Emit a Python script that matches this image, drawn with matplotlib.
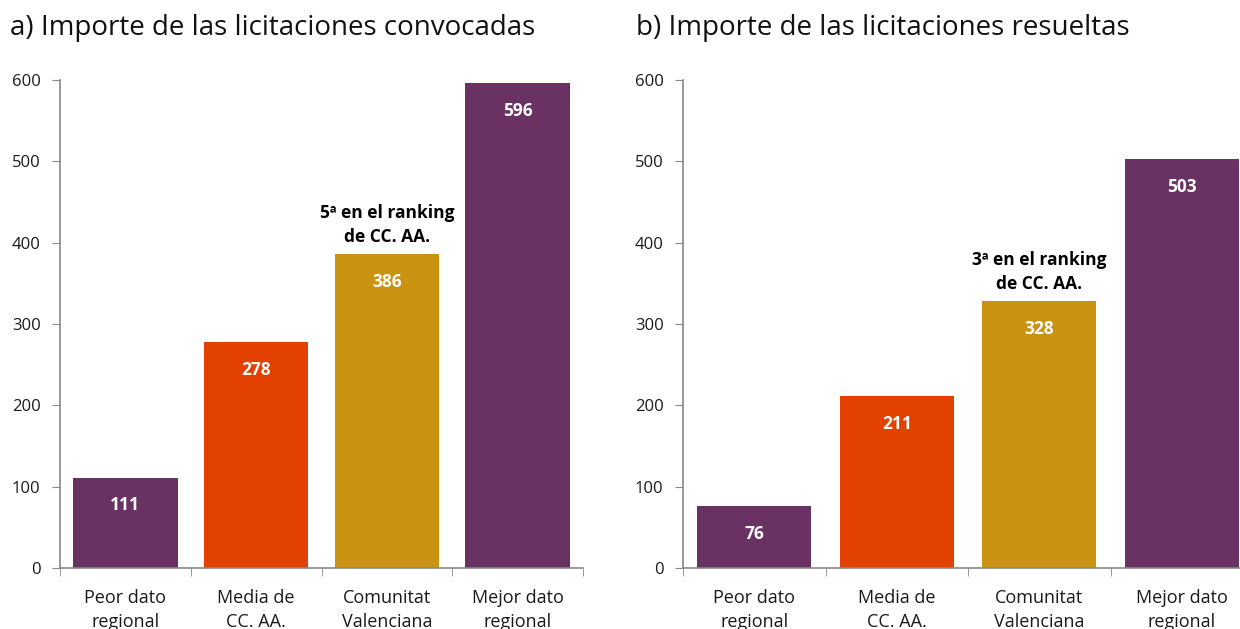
import numpy as np
import matplotlib.pyplot as plt

categories = ["Peor dato\nregional", "Media de\nCC. AA.", "Comunitat\nValenciana", "Mejor dato\nregional"]
convocadas = [111, 278, 386, 596]
resueltas = [76, 211, 328, 503]
titles = ["a) Importe de las licitaciones convocadas", "b) Importe de las licitaciones resueltas"]
rank_notes = ["5ª en el ranking\nde CC. AA.", "3ª en el ranking\nde CC. AA."]

colors = ["#6A3163", "#E34100", "#C99210", "#6A3163"]
plt.rcParams['font.family'] = ['Open Sans', 'DejaVu Sans']

fig = plt.figure(figsize=(12.4, 6.29), dpi=100)
axes_pos = [[60 / 1240, 1 - 568 / 629, 523 / 1240, 488 / 629],
            [683 / 1240, 1 - 568 / 629, 570 / 1240, 488 / 629]]
title_x = [10 / 1240, 636 / 1240]

for pos, tx, title, vals, note in zip(axes_pos, title_x, titles, [convocadas, resueltas], rank_notes):
    ax = fig.add_axes(pos)
    x = np.arange(len(categories))
    ax.bar(x, vals, width=0.8, color=colors)
    ax.set_xlim(-0.5, 3.5)
    ax.set_ylim(0, 600)
    ax.set_yticks(range(0, 601, 100))
    ax.set_xticks(x)
    ax.set_xticklabels(categories, fontsize=13, color="#1a1a1a", linespacing=1.45)
    ax.set_xticks(np.arange(-0.5, 4, 1), minor=True)
    ax.tick_params(axis='x', which='major', length=0, pad=15)
    ax.tick_params(axis='x', which='minor', length=6, color="#888888", direction='out')
    ax.tick_params(axis='y', length=6, color="#888888", labelsize=12, labelcolor="#1a1a1a", pad=8)
    for s in ['top', 'right']:
        ax.spines[s].set_visible(False)
    for s in ['left', 'bottom']:
        ax.spines[s].set_color("#888888")
        ax.spines[s].set_linewidth(1.2)
    ax.spines['bottom'].set_clip_on(False)
    for xi, v in zip(x, vals):
        ax.annotate(str(v), (xi, v), xytext=(0, -20), textcoords='offset points',
                    ha='center', va='center', color='white', fontsize=12.5, fontweight='bold')
    ax.annotate(note, (2, vals[2]), xytext=(0, 6), textcoords='offset points',
                ha='center', va='bottom', fontsize=12.5, fontweight='bold', color='black',
                linespacing=1.4)
    fig.text(tx, 1 - 28 / 629, title, fontsize=20, va='center', ha='left', color='#111111')

fig.savefig("out.png", dpi=100)
